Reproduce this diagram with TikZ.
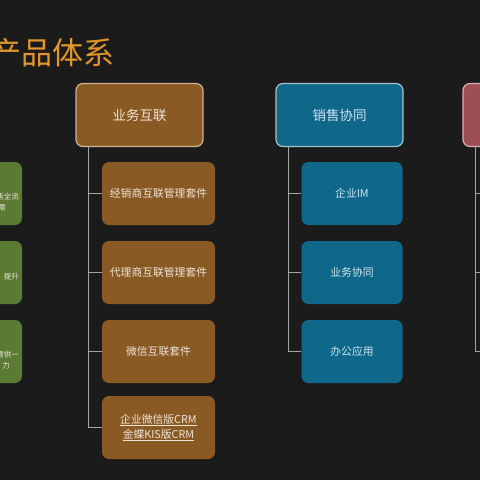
\documentclass[tikz,border=0pt]{standalone}
\usepackage{fontspec}
\setmainfont{Noto Sans CJK SC}
\usetikzlibrary{positioning}

\definecolor{bgdark}{RGB}{28,27,27}
\definecolor{titleorange}{RGB}{226,150,44}
\definecolor{bizbrown}{RGB}{138,90,37}
\definecolor{bizedge}{RGB}{205,178,150}
\definecolor{salesblue}{RGB}{15,104,138}
\definecolor{salesedge}{RGB}{165,195,205}
\definecolor{redbox}{RGB}{156,79,86}
\definecolor{rededge}{RGB}{222,175,178}
\definecolor{greenbox}{RGB}{91,123,52}
\definecolor{linegrey}{RGB}{165,165,165}
\definecolor{txtlight}{RGB}{238,228,215}
\definecolor{txtblue}{RGB}{205,228,238}

\tikzset{
  topbox/.style={draw=#1, line width=1.2pt, rounded corners=7pt, minimum width=127pt,
    minimum height=63pt, inner sep=0pt, text=txtlight, font=\fontsize{13.5}{16}\selectfont},
  subbox/.style={fill=#1, rounded corners=7pt, minimum width=113pt, minimum height=63pt,
    inner sep=0pt, font=\fontsize{10.8}{15}\selectfont, align=center},
  conn/.style={draw=linegrey, line width=0.9pt},
  gtext/.style={anchor=east, inner sep=0pt, text=txtlight, font=\fontsize{7.5}{9}\selectfont}
}

\begin{document}
\begin{tikzpicture}[x=1pt, y=-1pt]
  \fill[bgdark] (0,0) rectangle (480,480);
  \useasboundingbox (0,0) rectangle (480,480);
  \clip (0,0) rectangle (480,480);

  % title
  \node[anchor=base west, inner sep=0pt, text=titleorange, font=\fontsize{31}{34}\selectfont] (title) at (-10,64) {产品体系};

  % green column (cut off at the left)
  \node[subbox=greenbox] (g1) at (-34.5,193.5) {};
  \node[subbox=greenbox] (g2) at (-34.5,272.5) {};
  \node[subbox=greenbox] (g3) at (-34.5,351.5) {};
  \node[gtext] (g1a) at (19,197) {售全流};
  \node[gtext] (g1b) at (6,208) {需};
  \node[gtext] (g2a) at (19,277) {、提升};
  \node[gtext] (g3a) at (19,355) {需供一};
  \node[gtext] (g3b) at (10,366) {力};

  % 业务互联
  \node[topbox=bizedge, fill=bizbrown] (biz) at (139.5,115) {业务互联};
  \node[subbox=bizbrown, text=txtlight] (biz1) at (158.5,193.5) {经销商互联管理套件};
  \node[subbox=bizbrown, text=txtlight] (biz2) at (158.5,272.5) {代理商互联管理套件};
  \node[subbox=bizbrown, text=txtlight] (biz3) at (158.5,351.5) {微信互联套件};
  \node[subbox=bizbrown, text=txtlight] (biz4) at (158.5,427.5) {\underline{企业微信版CRM}\\\underline{金蝶KIS版CRM}};
  \coordinate (bizl) at ([xshift=13pt]biz.south west);
  \foreach \i in {1,...,4}
    \draw[conn] (bizl) |- (biz\i.west);

  % 销售协同
  \node[topbox=salesedge, fill=salesblue, text=txtblue] (sales) at (339.5,115) {销售协同};
  \node[subbox=salesblue, text=txtblue, minimum width=101pt] (sales1) at (352,193.5) {企业IM};
  \node[subbox=salesblue, text=txtblue, minimum width=101pt] (sales2) at (352,272.5) {业务协同};
  \node[subbox=salesblue, text=txtblue, minimum width=101pt] (sales3) at (352,351.5) {办公应用};
  \coordinate (salesl) at ([xshift=13pt]sales.south west);
  \foreach \i in {1,...,3}
    \draw[conn] (salesl) |- (sales\i.west);

  % third column (cut off at the right)
  \node[topbox=rededge, fill=redbox] (svc) at (526.5,115) {};
  \node[subbox=redbox] (svc1) at (545.5,193.5) {};
  \node[subbox=redbox] (svc2) at (545.5,272.5) {};
  \node[subbox=redbox] (svc3) at (545.5,351.5) {};
  \coordinate (svcl) at ([xshift=13pt]svc.south west);
  \foreach \i in {1,...,3}
    \draw[conn] (svcl) |- (svc\i.west);
\end{tikzpicture}
\end{document}
